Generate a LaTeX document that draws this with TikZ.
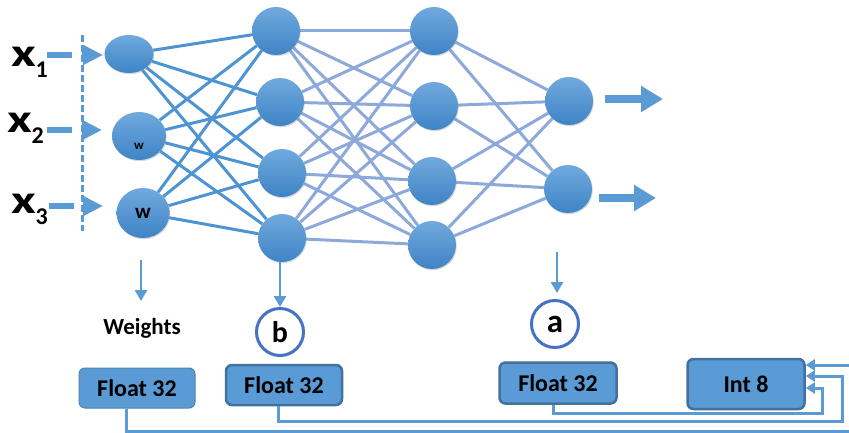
\documentclass[tikz,border=0pt]{standalone}
\usepackage{fontspec}
\setmainfont{Carlito}
\usetikzlibrary{shapes.geometric,arrows.meta,shadows,backgrounds,calc}

\definecolor{nTop}{HTML}{70A9DD}
\definecolor{nBot}{HTML}{3E84C6}
\definecolor{linkA}{HTML}{4F94D2}
\definecolor{linkB}{HTML}{8DA9DB}
\definecolor{flow}{HTML}{5B9BD5}
\definecolor{ring}{HTML}{4472C4}
\definecolor{boxedge}{HTML}{41719C}

% input label: a wide bold x with a lowered index
\newcommand{\inlab}[1]{\scalebox{1.35}[1]{x}\kern-0.5pt\raisebox{-11pt}{\fontsize{24}{24}\selectfont #1}}

\tikzset{
  neuron/.style={circle, minimum size=48pt, inner sep=0pt, draw=none,
    top color=nTop, bottom color=nBot,
    drop shadow={shadow xshift=0.8pt, shadow yshift=-1.2pt, opacity=0.3}},
  inneuron/.style={ellipse, inner sep=0pt, draw=none,
    top color=nTop, bottom color=nBot,
    drop shadow={shadow xshift=0.8pt, shadow yshift=-1.2pt, opacity=0.3}},
  linkin/.style={draw=linkA, line width=3pt},
  linkhid/.style={draw=linkB, line width=3pt},
  xlab/.style={inner sep=0pt, anchor=base west, font=\bfseries\fontsize{40}{40}\selectfont},
  inarrow/.style={draw=flow, line width=6pt, dash pattern=on 25pt off 10pt,
    -{Triangle[length=20pt,width=19pt]}},
  outarrow/.style={draw=flow, line width=8pt, -{Triangle[length=22pt,width=25pt]}},
  downarrow/.style={draw=flow, line width=2.6pt, -{Triangle[length=11pt,width=12pt]}},
  feed/.style={draw=flow, line width=3pt, -{Triangle[length=9pt,width=11pt]}},
  tag/.style={circle, draw=ring, line width=3pt, fill=white, minimum size=47pt, inner sep=0pt},
  box/.style={rectangle, rounded corners=6pt, fill=flow, inner sep=0pt,
    font=\bfseries\fontsize{24}{24}\selectfont},
}

\begin{document}
\begin{tikzpicture}[x=1pt,y=-1pt]
\useasboundingbox (0,0) rectangle (849,433);

% input layer
\node[inneuron, minimum width=49pt, minimum height=38pt] (i1) at (129,54) {};
\node[inneuron, minimum width=54pt, minimum height=48pt] (i2) at (139,136) {};
\node[inneuron, minimum width=53pt, minimum height=50pt] (i3) at (143,213) {};
\node[font=\bfseries\fontsize{13}{13}\selectfont, inner sep=0pt] (w2) at (139,146) {w};
\node[font=\bfseries\fontsize{21}{21}\selectfont, inner sep=0pt] (w3) at (143,213) {w};

% first hidden layer
\node[neuron] (h1a) at (276,31) {};
\node[neuron] (h1b) at (280,102) {};
\node[neuron] (h1c) at (282,173) {};
\node[neuron] (h1d) at (282,238) {};

% second hidden layer
\node[neuron] (h2a) at (434,31) {};
\node[neuron] (h2b) at (434,106) {};
\node[neuron] (h2c) at (432,181) {};
\node[neuron] (h2d) at (432,245) {};

% output layer
\node[neuron] (o1) at (569,101) {};
\node[neuron] (o2) at (568,189) {};

% weighted links, kept behind the neurons
\begin{scope}[on background layer]
  \fill[white] (0,0) rectangle (849,433);
  \foreach \s in {i1,i2,i3}
    \foreach \t in {h1a,h1b,h1c,h1d}
      \draw[linkin] (\s) -- (\t);
  \foreach \s in {h1a,h1b,h1c,h1d}
    \foreach \t in {h2a,h2b,h2c,h2d}
      \draw[linkhid] (\s) -- (\t);
  \foreach \s in {h2a,h2b,h2c,h2d}
    \foreach \t in {o1,o2}
      \draw[linkhid] (\s) -- (\t);
\end{scope}

% inputs
\node[xlab] (x1) at (11,67) {\inlab{1}};
\node[xlab] (x2) at (7,133) {\inlab{2}};
\node[xlab] (x3) at (11,213) {\inlab{3}};
\coordinate (x1s) at (47,55);  \coordinate (x1t) at (103,55);
\coordinate (x2s) at (47,130); \coordinate (x2t) at (102,130);
\coordinate (x3s) at (49,206); \coordinate (x3t) at (103,206);
\draw[inarrow] (x1s) -- (x1t);
\draw[inarrow] (x2s) -- (x2t);
\draw[inarrow] (x3s) -- (x3t);
\coordinate (vtop) at (82.7,35);
\coordinate (vbot) at (82.7,231);
\draw[flow, line width=2.5pt, dash pattern=on 7pt off 3pt] (vtop) -- (vbot);

% outputs
\coordinate (o1s) at (605,99);  \coordinate (o1t) at (663,99);
\coordinate (o2s) at (599,198); \coordinate (o2t) at (656,198);
\draw[outarrow] (o1s) -- (o1t);
\draw[outarrow] (o2s) -- (o2t);

% annotations below the network
\node[font=\bfseries\fontsize{23}{23}\selectfont, inner sep=0pt, anchor=base] (wlab) at (142,334) {Weights};
\node[tag, font=\bfseries\fontsize{30}{30}\selectfont] (b) at (280,332) {b};
\node[tag, font=\bfseries\fontsize{33}{33}\selectfont] (a) at (555,324) {a};

\coordinate (d1s) at (141,260); \coordinate (d1t) at (141,301);
\draw[downarrow] (d1s) -- (d1t);
\draw[downarrow] (b.north |- h1d.south) -- (b.north);
\coordinate (d3s) at (557,252); \coordinate (d3t) at (557,293);
\draw[downarrow] (d3s) -- (d3t);

% precision boxes
\node[box, draw=flow!85!black, line width=1pt, minimum width=116pt, minimum height=40pt] (wbox) at (137,388) {Float 32};
\node[box, draw=boxedge, line width=2.5pt, minimum width=116pt, minimum height=40pt] (bbox) at (284,385) {Float 32};
\node[box, draw=boxedge, line width=2.5pt, minimum width=117pt, minimum height=41pt] (abox) at (558,383) {Float 32};
\node[box, draw=boxedge, line width=2.5pt, minimum width=117pt, minimum height=50pt] (int8) at (746,384) {Int 8};

% conversions to Int 8
\coordinate (c1) at (853,431);
\coordinate (c2) at (842,421);
\coordinate (c3) at (822,413);
\draw[feed] ($(wbox.south)+(-11,0)$) |- (c1) |- ($(int8.east)+(0,-19)$);
\draw[feed] ($(bbox.south)+(-6,0)$) |- (c2) |- ($(int8.east)+(0,-8)$);
\draw[feed] ($(abox.south)+(-5,0)$) |- (c3) |- ($(int8.east)+(0,4)$);
\end{tikzpicture}
\end{document}
